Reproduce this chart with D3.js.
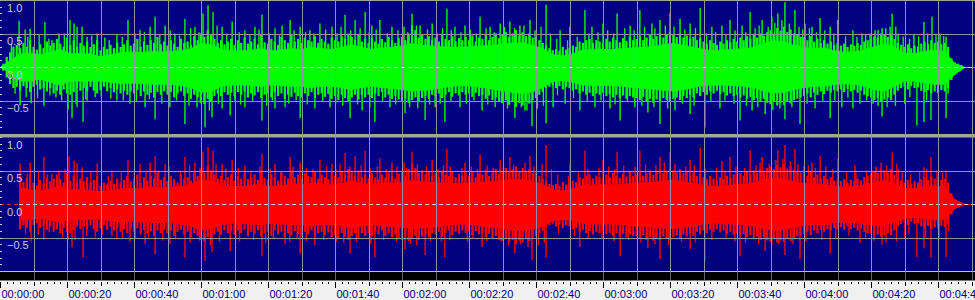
<!DOCTYPE html>
<html><head><meta charset="utf-8">
<script src="https://cdn.jsdelivr.net/npm/d3@7"></script>
<style>html,body{margin:0;padding:0;background:#f0f0f0;overflow:hidden}svg{display:block}</style>
</head><body><svg id="c" width="975" height="300"></svg>
<script>
// ---- data (time in seconds, amplitude -1..1) ----
const CORE_STEP = 3;   // seconds between dense-core envelope samples
const HAIR_STEP = 1;   // seconds between fringe samples
const greenCoreUp = [0,0.1,0.2,0.21,0.19,0.22,0.27,0.2,0.21,0.2,
0.16,0.19,0.22,0.23,0.22,0.24,0.23,0.24,0.25,0.28,
0.36,0.34,0.27,0.25,0.25,0.26,0.28,0.25,0.26,0.28,
0.27,0.3,0.28,0.27,0.3,0.34,0.3,0.27,0.29,0.3,
0.32,0.36,0.33,0.32,0.31,0.3,0.3,0.31,0.32,0.33,
0.35,0.36,0.37,0.33,0.28,0.19,0.17,0.2,0.26,0.27,
0.27,0.27,0.28,0.29,0.3,0.31,0.34,0.36,0.33,0.3,
0.27,0.25,0.26,0.27,0.28,0.3,0.36,0.4,0.38,0.33,
0.3,0.28,0.29,0.25,0.23,0.23,0.26,0.31,0.35,0.3,
0.21,0.21,0.24,0.26,0.24,0.06,0];
const greenCoreLo = [0,-0.08,-0.2,-0.2,-0.17,-0.22,-0.26,-0.2,-0.2,-0.2,
-0.2,-0.22,-0.24,-0.23,-0.24,-0.25,-0.25,-0.25,-0.27,-0.3,
-0.37,-0.35,-0.28,-0.26,-0.26,-0.27,-0.28,-0.26,-0.27,-0.28,
-0.28,-0.3,-0.28,-0.28,-0.3,-0.33,-0.3,-0.28,-0.3,-0.31,
-0.33,-0.35,-0.34,-0.33,-0.3,-0.28,-0.27,-0.28,-0.3,-0.32,
-0.35,-0.37,-0.39,-0.36,-0.3,-0.21,-0.19,-0.22,-0.26,-0.27,
-0.27,-0.27,-0.28,-0.3,-0.31,-0.32,-0.34,-0.35,-0.33,-0.3,
-0.27,-0.26,-0.26,-0.27,-0.28,-0.3,-0.35,-0.38,-0.37,-0.33,
-0.3,-0.28,-0.28,-0.25,-0.24,-0.25,-0.28,-0.33,-0.35,-0.28,
-0.2,-0.2,-0.23,-0.25,-0.25,-0.1,0];
const greenHairUp = [0,0.05,0.15,0.22,0.3,0.33,0.28,0.36,0.3,0.4,
0.3,0.26,0.34,0.28,0.38,0.32,0.36,0.42,0.35,0.3,
0.44,0.33,0.4,0.3,0.36,0.32,0.38,0.3,0.34,0.4,
0.25,0.3,0.27,0.33,0.28,0.36,0.3,0.34,0.4,0.32,
0.35,0.42,0.3,0.38,0.33,0.4,0.36,0.45,0.34,0.38,
0.32,0.4,0.35,0.3,0.42,0.36,0.38,0.33,0.46,0.4,
0.5,0.45,0.55,0.48,0.42,0.36,0.4,0.34,0.38,0.42,
0.33,0.4,0.36,0.44,0.35,0.38,0.42,0.34,0.48,0.37,
0.35,0.42,0.38,0.33,0.45,0.4,0.36,0.48,0.38,0.42,
0.36,0.44,0.4,0.38,0.46,0.36,0.42,0.38,0.35,0.44,
0.4,0.38,0.46,0.42,0.5,0.45,0.4,0.48,0.38,0.42,
0.36,0.44,0.38,0.35,0.42,0.37,0.45,0.4,0.36,0.43,
0.45,0.4,0.5,0.62,0.55,0.44,0.48,0.42,0.46,0.4,
0.44,0.38,0.48,0.42,0.4,0.46,0.38,0.43,0.4,0.45,
0.4,0.47,0.38,0.44,0.42,0.48,0.4,0.45,0.5,0.43,
0.48,0.52,0.45,0.5,0.55,0.47,0.52,0.46,0.5,0.44,
0.45,0.4,0.36,0.32,0.28,0.25,0.27,0.24,0.3,0.26,
0.28,0.32,0.3,0.38,0.36,0.4,0.42,0.36,0.4,0.38,
0.36,0.42,0.38,0.44,0.4,0.37,0.43,0.39,0.46,0.4,
0.42,0.46,0.4,0.44,0.48,0.42,0.46,0.5,0.44,0.48,
0.52,0.48,0.45,0.5,0.44,0.47,0.42,0.45,0.4,0.43,
0.38,0.35,0.4,0.36,0.33,0.38,0.35,0.4,0.37,0.42,
0.38,0.44,0.4,0.46,0.42,0.48,0.44,0.5,0.47,0.52,
0.55,0.5,0.58,0.54,0.6,0.52,0.56,0.5,0.48,0.45,
0.44,0.4,0.46,0.38,0.42,0.36,0.4,0.35,0.38,0.33,
0.36,0.32,0.35,0.3,0.34,0.32,0.36,0.33,0.38,0.4,
0.42,0.46,0.44,0.5,0.48,0.45,0.5,0.42,0.36,0.33,
0.3,0.34,0.28,0.32,0.3,0.35,0.38,0.34,0.4,0.36,
0.38,0.34,0.36,0.3,0.13,0.07,0.05,0.03];
const greenHairLo = [0,-0.04,-0.14,-0.24,-0.3,-0.28,-0.34,-0.27,-0.3,-0.36,
-0.28,-0.25,-0.32,-0.3,-0.35,-0.3,-0.38,-0.34,-0.4,-0.32,
-0.38,-0.4,-0.36,-0.3,-0.34,-0.3,-0.35,-0.28,-0.34,-0.38,
-0.33,-0.28,-0.35,-0.3,-0.36,-0.32,-0.38,-0.34,-0.4,-0.35,
-0.38,-0.33,-0.42,-0.35,-0.4,-0.37,-0.44,-0.36,-0.4,-0.35,
-0.4,-0.36,-0.44,-0.38,-0.35,-0.42,-0.38,-0.46,-0.4,-0.44,
-0.5,-0.54,-0.46,-0.5,-0.42,-0.38,-0.42,-0.36,-0.4,-0.37,
-0.42,-0.36,-0.4,-0.35,-0.44,-0.38,-0.41,-0.36,-0.45,-0.4,
-0.38,-0.44,-0.36,-0.42,-0.38,-0.46,-0.4,-0.43,-0.37,-0.42,
-0.44,-0.38,-0.42,-0.36,-0.45,-0.4,-0.38,-0.43,-0.39,-0.46,
-0.42,-0.48,-0.4,-0.45,-0.5,-0.44,-0.4,-0.47,-0.4,-0.44,
-0.4,-0.45,-0.38,-0.42,-0.36,-0.44,-0.4,-0.46,-0.42,-0.47,
-0.5,-0.46,-0.52,-0.48,-0.44,-0.5,-0.45,-0.42,-0.46,-0.4,
-0.42,-0.38,-0.45,-0.4,-0.36,-0.43,-0.38,-0.41,-0.36,-0.4,
-0.38,-0.43,-0.37,-0.42,-0.4,-0.46,-0.41,-0.48,-0.44,-0.5,
-0.52,-0.48,-0.55,-0.5,-0.58,-0.52,-0.56,-0.5,-0.53,-0.48,
-0.45,-0.4,-0.36,-0.3,-0.28,-0.26,-0.3,-0.27,-0.32,-0.28,
-0.3,-0.34,-0.32,-0.38,-0.35,-0.4,-0.37,-0.42,-0.38,-0.4,
-0.37,-0.42,-0.39,-0.44,-0.4,-0.45,-0.41,-0.46,-0.42,-0.44,
-0.45,-0.48,-0.43,-0.5,-0.46,-0.52,-0.47,-0.5,-0.45,-0.48,
-0.5,-0.46,-0.44,-0.48,-0.42,-0.45,-0.4,-0.44,-0.38,-0.42,
-0.36,-0.4,-0.35,-0.38,-0.34,-0.39,-0.36,-0.41,-0.38,-0.42,
-0.4,-0.44,-0.41,-0.46,-0.43,-0.48,-0.45,-0.5,-0.46,-0.52,
-0.54,-0.5,-0.56,-0.52,-0.55,-0.5,-0.53,-0.48,-0.46,-0.44,
-0.42,-0.38,-0.44,-0.37,-0.4,-0.35,-0.39,-0.34,-0.37,-0.33,
-0.35,-0.32,-0.36,-0.31,-0.35,-0.33,-0.37,-0.34,-0.4,-0.42,
-0.44,-0.48,-0.45,-0.5,-0.47,-0.44,-0.48,-0.4,-0.34,-0.3,
-0.28,-0.32,-0.27,-0.3,-0.29,-0.34,-0.36,-0.33,-0.38,-0.35,
-0.37,-0.33,-0.35,-0.3,-0.18,-0.1,-0.05,-0.03];
const redCoreUp = [null,null,0.25,0.22,0.2,0.23,0.28,0.22,0.22,0.21,
0.19,0.2,0.23,0.24,0.24,0.26,0.25,0.26,0.27,0.3,
0.37,0.35,0.29,0.27,0.27,0.28,0.3,0.27,0.28,0.3,
0.29,0.31,0.3,0.29,0.31,0.35,0.31,0.29,0.31,0.32,
0.33,0.36,0.34,0.33,0.32,0.31,0.31,0.32,0.33,0.34,
0.36,0.37,0.37,0.34,0.3,0.22,0.2,0.23,0.28,0.29,
0.29,0.29,0.3,0.31,0.32,0.33,0.35,0.37,0.34,0.31,
0.29,0.27,0.28,0.29,0.3,0.32,0.37,0.4,0.38,0.34,
0.31,0.3,0.3,0.27,0.26,0.27,0.29,0.33,0.36,0.31,
0.24,0.24,0.26,0.28,0.26,0.07,0];
const redCoreLo = [null,null,-0.24,-0.22,-0.2,-0.23,-0.27,-0.22,-0.22,-0.22,
-0.22,-0.24,-0.26,-0.25,-0.26,-0.27,-0.27,-0.27,-0.29,-0.32,
-0.38,-0.36,-0.3,-0.28,-0.28,-0.29,-0.3,-0.28,-0.29,-0.3,
-0.3,-0.32,-0.3,-0.3,-0.32,-0.35,-0.32,-0.3,-0.32,-0.33,
-0.34,-0.36,-0.35,-0.34,-0.32,-0.3,-0.29,-0.3,-0.32,-0.34,
-0.36,-0.38,-0.39,-0.37,-0.32,-0.24,-0.22,-0.24,-0.28,-0.29,
-0.29,-0.29,-0.3,-0.32,-0.33,-0.34,-0.35,-0.36,-0.34,-0.32,
-0.29,-0.28,-0.28,-0.29,-0.3,-0.32,-0.36,-0.38,-0.37,-0.34,
-0.31,-0.3,-0.3,-0.27,-0.26,-0.27,-0.29,-0.31,-0.31,-0.26,
-0.2,-0.19,-0.21,-0.23,-0.22,-0.06,0];
const redHairUp = [null,null,null,null,null,null,0.42,0.33,0.38,0.44,
0.32,0.28,0.36,0.3,0.4,0.34,0.38,0.44,0.37,0.32,
0.46,0.35,0.42,0.32,0.38,0.34,0.4,0.32,0.36,0.42,
0.27,0.32,0.29,0.35,0.3,0.38,0.32,0.36,0.42,0.34,
0.37,0.44,0.32,0.4,0.35,0.42,0.38,0.47,0.36,0.4,
0.34,0.42,0.37,0.32,0.44,0.38,0.4,0.35,0.48,0.42,
0.52,0.47,0.56,0.5,0.44,0.38,0.42,0.36,0.4,0.44,
0.35,0.42,0.38,0.46,0.37,0.4,0.44,0.36,0.5,0.39,
0.37,0.44,0.4,0.35,0.47,0.42,0.38,0.5,0.4,0.44,
0.38,0.46,0.42,0.4,0.48,0.38,0.44,0.4,0.37,0.46,
0.42,0.4,0.48,0.44,0.52,0.47,0.42,0.5,0.4,0.44,
0.38,0.46,0.4,0.37,0.44,0.39,0.47,0.42,0.38,0.45,
0.47,0.42,0.52,0.6,0.54,0.46,0.5,0.44,0.48,0.42,
0.46,0.4,0.5,0.44,0.42,0.48,0.4,0.45,0.42,0.47,
0.42,0.49,0.4,0.46,0.44,0.5,0.42,0.47,0.52,0.45,
0.5,0.54,0.47,0.52,0.56,0.49,0.54,0.48,0.52,0.46,
0.47,0.42,0.38,0.34,0.3,0.28,0.3,0.27,0.33,0.29,
0.31,0.35,0.33,0.4,0.38,0.42,0.44,0.38,0.42,0.4,
0.38,0.44,0.4,0.46,0.42,0.39,0.45,0.41,0.48,0.42,
0.44,0.48,0.42,0.46,0.5,0.44,0.48,0.52,0.46,0.5,
0.54,0.5,0.47,0.52,0.46,0.49,0.44,0.47,0.42,0.45,
0.4,0.37,0.42,0.38,0.35,0.4,0.37,0.42,0.39,0.44,
0.4,0.46,0.42,0.48,0.44,0.5,0.46,0.52,0.49,0.54,
0.56,0.52,0.58,0.55,0.6,0.53,0.57,0.51,0.49,0.47,
0.46,0.42,0.48,0.4,0.44,0.38,0.42,0.37,0.4,0.35,
0.38,0.34,0.37,0.32,0.36,0.34,0.38,0.35,0.4,0.42,
0.44,0.48,0.46,0.52,0.5,0.47,0.52,0.44,0.38,0.35,
0.32,0.36,0.3,0.34,0.32,0.37,0.4,0.36,0.42,0.38,
0.4,0.36,0.38,0.32,0.16,0.07,0.04,0.02];
const redHairLo = [null,null,null,null,null,null,-0.36,-0.3,-0.34,-0.4,
-0.3,-0.27,-0.34,-0.32,-0.37,-0.32,-0.4,-0.36,-0.42,-0.34,
-0.4,-0.42,-0.38,-0.32,-0.36,-0.32,-0.37,-0.3,-0.36,-0.4,
-0.35,-0.3,-0.37,-0.32,-0.38,-0.34,-0.4,-0.36,-0.42,-0.37,
-0.4,-0.35,-0.44,-0.37,-0.42,-0.39,-0.46,-0.38,-0.42,-0.37,
-0.42,-0.38,-0.46,-0.4,-0.37,-0.44,-0.4,-0.48,-0.42,-0.46,
-0.52,-0.55,-0.48,-0.52,-0.44,-0.4,-0.44,-0.38,-0.42,-0.39,
-0.44,-0.38,-0.42,-0.37,-0.46,-0.4,-0.43,-0.38,-0.47,-0.42,
-0.4,-0.46,-0.38,-0.44,-0.4,-0.48,-0.42,-0.45,-0.39,-0.44,
-0.46,-0.4,-0.44,-0.38,-0.47,-0.42,-0.4,-0.45,-0.41,-0.48,
-0.44,-0.5,-0.42,-0.47,-0.52,-0.46,-0.42,-0.49,-0.42,-0.46,
-0.42,-0.47,-0.4,-0.44,-0.38,-0.46,-0.42,-0.48,-0.44,-0.49,
-0.52,-0.48,-0.54,-0.5,-0.46,-0.52,-0.47,-0.44,-0.48,-0.42,
-0.44,-0.4,-0.47,-0.42,-0.38,-0.45,-0.4,-0.43,-0.38,-0.42,
-0.4,-0.45,-0.39,-0.44,-0.42,-0.48,-0.43,-0.5,-0.46,-0.52,
-0.54,-0.5,-0.56,-0.52,-0.58,-0.53,-0.56,-0.51,-0.54,-0.49,
-0.46,-0.42,-0.38,-0.32,-0.3,-0.28,-0.32,-0.29,-0.34,-0.3,
-0.32,-0.36,-0.34,-0.4,-0.37,-0.42,-0.39,-0.44,-0.4,-0.42,
-0.39,-0.44,-0.41,-0.46,-0.42,-0.47,-0.43,-0.48,-0.44,-0.46,
-0.47,-0.5,-0.45,-0.52,-0.48,-0.53,-0.49,-0.52,-0.47,-0.5,
-0.52,-0.48,-0.46,-0.5,-0.44,-0.47,-0.42,-0.46,-0.4,-0.44,
-0.38,-0.42,-0.37,-0.4,-0.36,-0.41,-0.38,-0.43,-0.4,-0.44,
-0.42,-0.46,-0.43,-0.48,-0.45,-0.5,-0.47,-0.52,-0.48,-0.53,
-0.55,-0.51,-0.56,-0.53,-0.55,-0.51,-0.54,-0.49,-0.47,-0.45,
-0.43,-0.4,-0.45,-0.38,-0.42,-0.37,-0.4,-0.36,-0.38,-0.34,
-0.36,-0.33,-0.37,-0.32,-0.36,-0.34,-0.38,-0.35,-0.4,-0.42,
-0.43,-0.46,-0.44,-0.47,-0.45,-0.42,-0.45,-0.38,-0.32,-0.28,
-0.26,-0.3,-0.25,-0.28,-0.27,-0.32,-0.34,-0.31,-0.36,-0.33,
-0.35,-0.31,-0.33,-0.28,-0.14,-0.06,-0.03,-0.02];
// isolated tall peaks: [time s, amplitude]
const greenPeaks = [[5.7,0.69],[7.5,0.56],[9.0,0.57],[13.4,0.67],[15.5,0.4],[17.6,0.5],[20.9,0.7],[22.1,0.65],[23.0,0.6],[24.5,0.6],[26.0,0.45],[29.0,0.5],[31.3,0.44],[34.9,0.48],[38.2,0.7],[41.8,0.55],[44.8,0.6],[46.3,0.75],[49.3,0.62],[52.2,0.5],[55.2,0.72],[58.2,0.6],[60.6,0.8],[62.1,0.92],[63.6,0.82],[66.3,0.6],[69.3,0.68],[73.1,0.55],[76.1,0.6],[78.2,0.78],[82.1,0.58],[84.2,0.62],[86.6,0.7],[89.6,0.6],[92.5,0.55],[95.5,0.65],[99.1,0.6],[103.0,0.78],[106.0,0.7],[109.0,0.82],[111.0,0.62],[113.4,0.7],[117.0,0.6],[120.6,0.6],[123.0,0.8],[125.4,0.62],[129.0,0.65],[133.4,0.87],[135.8,0.6],[138.8,0.62],[143.3,0.75],[146.3,0.6],[149.3,0.65],[152.2,0.68],[155.2,0.62],[158.2,0.7],[163.0,0.93],[167.2,0.55],[170.1,0.6],[174.6,0.85],[176.7,0.6],[180.0,0.65],[184.2,0.8],[188.1,0.62],[191.0,0.85],[194.6,0.65],[197.0,0.7],[200.0,0.8],[203.0,0.72],[206.0,0.65],[209.0,0.88],[212.5,0.6],[215.5,0.62],[217.9,0.7],[221.5,0.62],[223.9,0.82],[227.5,0.7],[230.4,0.75],[232.2,0.8],[234.3,0.97],[237.3,0.85],[240.3,0.65],[242.4,0.6],[244.8,0.73],[247.8,0.6],[250.1,0.7],[254.6,0.55],[257.3,0.5],[259.7,0.5],[262.1,0.55],[263.3,0.58],[265.7,0.6],[266.3,0.8],[268.1,0.5],[272.8,0.48],[275.8,0.67],[278.2,0.75],[280.6,0.5],[282.4,0.45],
[6.0,-0.57],[9.3,-0.54],[13.1,-0.58],[16.7,-0.45],[20.3,-0.64],[21.5,-0.76],[23.0,-0.6],[24.8,-0.82],[26.0,-0.5],[28.4,-0.45],[34.9,-0.5],[38.8,-0.55],[43.3,-0.6],[46.3,-0.78],[50.7,-0.6],[55.2,-0.85],[58.8,-0.6],[61.2,-0.9],[63.3,-0.75],[66.3,-0.62],[68.7,-0.72],[73.1,-0.6],[78.2,-0.8],[82.1,-0.62],[85.1,-0.6],[89.6,-0.76],[94.0,-0.62],[98.5,-0.6],[104.5,-0.76],[108.1,-0.65],[111.9,-0.82],[116.4,-0.6],[120.9,-0.69],[126.9,-0.79],[129.9,-0.6],[132.8,-0.82],[137.3,-0.6],[143.9,-0.65],[147.8,-0.6],[153.7,-0.76],[156.7,-0.65],[158.8,-0.88],[163.0,-0.84],[165.1,-0.6],[168.7,-0.55],[173.1,-0.65],[177.6,-0.6],[182.1,-0.62],[185.1,-0.8],[189.5,-0.6],[193.4,-0.68],[197.0,-0.85],[201.5,-0.65],[206.0,-0.7],[210.4,-0.9],[214.9,-0.62],[220.9,-0.8],[224.5,-0.65],[228.4,-0.7],[234.3,-0.78],[238.8,-0.85],[243.3,-0.62],[247.8,-0.76],[251.3,-0.6],[254.6,-0.62],[256.7,-0.55],[262.1,-0.58],[263.3,-0.74],[270.1,-0.55],[273.7,-0.87],[275.8,-0.82],[277.9,-0.79],[282.4,-0.76]];
const greenMidPeaks = [[3.4,0.35],[8.3,0.45],[11.7,0.48],[14.6,0.42],[19.2,0.5],[27.4,0.47],[32.6,0.4],[36.5,0.45],[40.3,0.5],[43.1,0.52],[47.7,0.48],[50.8,0.55],[53.6,0.47],[56.9,0.58],[59.4,0.52],[64.8,0.62],[67.7,0.5],[71.4,0.52],[74.6,0.48],[77.3,0.56],[80.4,0.5],[83.4,0.47],[87.8,0.55],[91.2,0.52],[93.7,0.5],[97.2,0.56],[100.6,0.5],[101.8,0.6],[104.7,0.55],[107.5,0.58],[110.2,0.52],[112.3,0.56],[115.6,0.5],[118.8,0.55],[121.7,0.52],[124.3,0.62],[127.6,0.56],[130.5,0.5],[132.1,0.58],[134.7,0.55],[137.6,0.52],[140.4,0.56],[142.2,0.5],[145.1,0.58],[147.5,0.52],[150.6,0.6],[153.6,0.58],[156.4,0.62],[159.7,0.55],[161.5,0.6],[164.3,0.5],[166.2,0.42],[169.4,0.4],[172.3,0.45],[175.8,0.5],[178.5,0.52],[181.4,0.55],[183.2,0.5],[186.5,0.58],[189.3,0.55],[192.4,0.6],[195.5,0.58],[198.6,0.62],[201.2,0.6],[204.4,0.56],[207.6,0.58],[210.9,0.5],[213.6,0.52],[216.7,0.48],[219.4,0.55],[222.6,0.52],[225.4,0.58],[226.6,0.62],[229.3,0.6],[231.3,0.66],[233.4,0.7],[235.6,0.65],[238.5,0.6],[239.6,0.56],[241.6,0.58],[243.7,0.52],[246.2,0.55],[248.9,0.5],[252.4,0.46],[255.8,0.45],[258.4,0.48],[261.2,0.55],[264.4,0.58],[267.4,0.6],[269.6,0.45],[271.5,0.42],[274.2,0.46],[276.9,0.5],[279.4,0.48],[281.7,0.46],
[4.5,-0.4],[7.8,-0.45],[11.2,-0.46],[14.9,-0.42],[18.4,-0.5],[22.7,-0.55],[25.6,-0.48],[30.2,-0.44],[33.1,-0.47],[36.8,-0.5],[40.7,-0.52],[44.6,-0.48],[48.3,-0.55],[52.7,-0.5],[56.4,-0.58],[59.8,-0.54],[62.5,-0.65],[65.2,-0.55],[70.1,-0.5],[71.8,-0.56],[75.4,-0.52],[79.6,-0.58],[81.3,-0.5],[86.2,-0.55],[88.4,-0.5],[91.7,-0.56],[96.3,-0.52],[100.2,-0.55],[102.3,-0.58],[106.7,-0.56],[110.4,-0.6],[114.2,-0.52],[118.1,-0.56],[122.3,-0.6],[124.7,-0.62],[128.2,-0.56],[131.4,-0.55],[134.6,-0.52],[139.2,-0.55],[141.5,-0.5],[145.6,-0.56],[149.8,-0.54],[151.5,-0.62],[155.6,-0.6],[157.3,-0.65],[160.4,-0.62],[162.2,-0.58],[166.4,-0.42],[171.2,-0.46],[175.3,-0.52],[179.4,-0.5],[183.6,-0.56],[187.3,-0.52],[191.6,-0.58],[195.2,-0.6],[199.3,-0.62],[203.7,-0.55],[207.2,-0.58],[212.2,-0.52],[216.4,-0.5],[219.1,-0.55],[222.8,-0.58],[226.2,-0.6],[230.7,-0.64],[232.8,-0.62],[236.4,-0.6],[240.9,-0.55],[245.6,-0.52],[249.2,-0.5],[253.1,-0.46],[258.7,-0.5],[260.6,-0.55],[264.8,-0.6],[267.3,-0.58],[271.6,-0.45],[276.6,-0.5],[280.1,-0.48],[283.0,-0.4]];
const redPeaks = [[6.0,0.61],[9.0,0.62],[13.1,0.7],[15.5,0.45],[17.6,0.5],[20.6,0.71],[22.1,0.65],[23.0,0.61],[24.5,0.55],[29.0,0.61],[33.4,0.5],[38.2,0.65],[41.8,0.6],[44.8,0.62],[46.3,0.72],[49.3,0.6],[55.2,0.7],[58.2,0.62],[60.6,0.78],[62.1,0.85],[63.6,0.8],[66.3,0.6],[69.3,0.66],[73.1,0.58],[78.2,0.75],[82.1,0.6],[86.6,0.7],[89.6,0.62],[95.5,0.66],[99.1,0.6],[103.0,0.76],[106.0,0.72],[109.0,0.8],[113.4,0.68],[117.0,0.62],[120.6,0.62],[123.0,0.78],[129.0,0.66],[133.4,0.82],[138.8,0.62],[143.3,0.74],[149.3,0.66],[152.2,0.7],[158.2,0.72],[163.0,0.88],[170.1,0.6],[174.6,0.8],[180.0,0.66],[184.2,0.78],[191.0,0.8],[197.0,0.7],[200.0,0.78],[206.0,0.66],[209.0,0.84],[215.5,0.64],[217.9,0.7],[223.9,0.8],[227.5,0.7],[232.2,0.8],[234.3,0.88],[237.3,0.82],[242.4,0.62],[244.8,0.72],[250.1,0.68],[255.2,0.58],[260.3,0.5],[263.0,0.62],[266.3,0.77],[268.1,0.52],[275.8,0.55],[277.9,0.7],[282.4,0.5],
[6.0,-0.34],[9.3,-0.56],[13.1,-0.53],[20.3,-0.53],[21.5,-0.64],[24.8,-0.8],[28.4,-0.5],[34.9,-0.53],[38.8,-0.56],[43.3,-0.6],[46.3,-0.75],[50.7,-0.6],[55.2,-0.8],[61.2,-0.85],[63.3,-0.72],[68.7,-0.7],[78.2,-0.78],[85.1,-0.6],[89.6,-0.74],[94.0,-0.62],[104.5,-0.74],[111.9,-0.8],[120.9,-0.68],[126.9,-0.76],[132.8,-0.8],[143.9,-0.64],[153.7,-0.74],[158.8,-0.84],[163.0,-0.8],[173.1,-0.64],[185.1,-0.78],[193.4,-0.66],[197.0,-0.82],[206.0,-0.68],[210.4,-0.86],[220.9,-0.78],[228.4,-0.7],[234.3,-0.76],[238.8,-0.82],[247.8,-0.74],[256.7,-0.58],[263.3,-0.61],[270.1,-0.5],[273.7,-0.79],[275.8,-0.66],[277.9,-0.8],[282.4,-0.79]];
const redMidPeaks = [[8.1,0.45],[11.5,0.5],[14.2,0.44],[19.4,0.52],[27.1,0.48],[32.3,0.42],[36.2,0.47],[40.1,0.52],[43.6,0.5],[47.4,0.5],[50.5,0.56],[53.9,0.48],[56.6,0.58],[59.7,0.54],[64.5,0.6],[67.4,0.52],[71.1,0.54],[74.9,0.5],[77.6,0.56],[80.7,0.52],[83.8,0.48],[87.5,0.56],[91.5,0.54],[93.4,0.52],[97.5,0.56],[100.3,0.52],[101.5,0.6],[104.4,0.56],[107.8,0.58],[110.5,0.54],[112.6,0.56],[115.3,0.52],[118.5,0.56],[121.4,0.54],[124.6,0.6],[127.3,0.56],[130.8,0.52],[132.4,0.58],[134.4,0.56],[137.9,0.54],[140.7,0.56],[142.5,0.52],[145.4,0.58],[147.2,0.54],[150.3,0.6],[153.3,0.58],[156.7,0.62],[159.4,0.56],[161.8,0.6],[164.6,0.52],[166.5,0.44],[169.7,0.42],[172.6,0.47],[175.5,0.52],[178.8,0.54],[181.7,0.56],[183.5,0.52],[186.2,0.58],[189.6,0.56],[192.7,0.6],[195.8,0.58],[198.3,0.62],[201.5,0.6],[204.7,0.56],[207.3,0.58],[210.6,0.52],[213.9,0.54],[216.4,0.5],[219.7,0.56],[222.3,0.54],[225.7,0.58],[226.9,0.62],[229.6,0.6],[231.6,0.66],[233.7,0.68],[235.9,0.64],[238.2,0.6],[239.9,0.56],[241.3,0.58],[243.4,0.54],[246.5,0.56],[248.6,0.52],[252.7,0.48],[255.5,0.47],[258.7,0.5],[261.5,0.56],[264.7,0.58],[267.7,0.6],[269.3,0.47],[271.8,0.44],[274.5,0.48],[276.6,0.52],[279.7,0.5],[281.4,0.47],
[7.6,-0.44],[11.4,-0.46],[14.7,-0.42],[18.7,-0.5],[22.4,-0.54],[25.9,-0.48],[30.5,-0.45],[33.4,-0.48],[36.5,-0.5],[40.4,-0.52],[44.3,-0.5],[48.6,-0.55],[52.4,-0.52],[56.7,-0.58],[59.5,-0.55],[62.8,-0.62],[65.5,-0.56],[70.4,-0.52],[71.5,-0.56],[75.7,-0.54],[79.3,-0.58],[81.6,-0.52],[86.5,-0.56],[88.7,-0.52],[91.4,-0.56],[96.6,-0.54],[100.5,-0.56],[102.6,-0.58],[106.4,-0.56],[110.7,-0.6],[114.5,-0.54],[118.4,-0.56],[122.6,-0.6],[124.4,-0.62],[128.5,-0.56],[131.7,-0.56],[134.3,-0.54],[139.5,-0.56],[141.2,-0.52],[145.3,-0.56],[149.5,-0.55],[151.8,-0.62],[155.3,-0.6],[157.6,-0.64],[160.7,-0.62],[162.5,-0.58],[166.7,-0.44],[171.5,-0.48],[175.6,-0.52],[179.7,-0.52],[183.3,-0.56],[187.6,-0.54],[191.3,-0.58],[195.5,-0.6],[199.6,-0.62],[203.4,-0.56],[207.5,-0.58],[212.5,-0.54],[216.7,-0.52],[219.4,-0.56],[222.5,-0.58],[226.5,-0.6],[230.4,-0.62],[232.5,-0.6],[236.7,-0.6],[240.6,-0.56],[245.3,-0.54],[249.5,-0.52],[253.4,-0.47],[258.4,-0.5],[260.9,-0.55],[264.5,-0.58],[267.6,-0.56],[271.3,-0.44],[276.3,-0.5],[280.4,-0.5],[283.2,-0.4]];
const yTickValues = [1.0, 0.5, 0.0, -0.5];
const timeLabels = ["00:00:00","00:00:20","00:00:40","00:01:00","00:01:20","00:01:40","00:02:00","00:02:20","00:02:40","00:03:00","00:03:20","00:03:40","00:04:00","00:04:20","00:04:40"];
const labelTimes = [0,20,40,60,80,100,120,140,160,180,200,220,240,260,280];
const greenStart = 0.6, redStart = 5.7;

// ---- drawing ----
const svg = d3.select('#c');
const x = d3.scaleLinear().domain([0, 291.04]).range([0, 975]);
const panels = [
  {y: d3.scaleLinear().domain([-1,1]).range([134,0]), top:0, bottom:134, color:'#00ff00', cu:greenCoreUp, cl:greenCoreLo, hu:greenHairUp, hl:greenHairLo, peaks:greenPeaks, mid:greenMidPeaks, start:greenStart, pre:'#a8f0a8'},
  {y: d3.scaleLinear().domain([-1,1]).range([271,137]), top:137, bottom:271, color:'#ff0000', cu:redCoreUp, cl:redCoreLo, hu:redHairUp, hl:redHairLo, peaks:redPeaks, mid:redMidPeaks, start:redStart, pre:'#ff2020'}
];
const GRID = '#9090a4';
const FONT = 'Liberation Sans, Arial, sans-serif';
svg.append('rect').attr('x',0).attr('y',0).attr('width',975).attr('height',300).attr('fill','#f0f0f0');
panels.forEach((p,k)=>{
  const cid = 'clip'+k;
  svg.append('clipPath').attr('id',cid).append('rect').attr('x',0).attr('y',p.top).attr('width',975).attr('height',p.bottom-p.top);
  const g = svg.append('g').attr('clip-path',`url(#${cid})`);
  g.append('rect').attr('x',0).attr('y',p.top).attr('width',975).attr('height',p.bottom-p.top).attr('fill','#000080');
  const y = p.y, y0 = y(0)+0.5;
  g.append('line').attr('x1',0).attr('x2',x(p.start)).attr('y1',y0).attr('y2',y0)
    .attr('stroke',p.pre).attr('stroke-dasharray','4,3');
  g.append('line').attr('x1',x(p.start)).attr('x2',975).attr('y1',y0).attr('y2',y0).attr('stroke',p.color);
  const area = d3.area().defined((d,i)=>p.cu[i]!==null)
    .x((d,i)=>x(i*CORE_STEP)).y1((d,i)=>y(p.cu[i])).y0((d,i)=>y(p.cl[i])+1);
  g.append('path').datum(p.cu).attr('d',area).attr('fill',p.color);
  const hair = p.hu.map((v,i)=>[i*HAIR_STEP, v, p.hl[i]]).filter(d=>d[1]!==null);
  g.selectAll('line.hr').data(hair).join('line').attr('class','hr')
    .attr('x1',d=>x(d[0])).attr('x2',d=>x(d[0]))
    .attr('y1',d=>y(d[1])).attr('y2',d=>y(d[2])+1)
    .attr('stroke',p.color).attr('stroke-width',2.2);
  g.selectAll('line.md').data(p.mid).join('line').attr('class','md')
    .attr('x1',d=>x(d[0])).attr('x2',d=>x(d[0]))
    .attr('y1',y0).attr('y2',d=>y(d[1]))
    .attr('stroke',p.color).attr('stroke-width',1.3);
  g.selectAll('line.pk').data(p.peaks).join('line').attr('class','pk')
    .attr('x1',d=>x(d[0])).attr('x2',d=>x(d[0]))
    .attr('y1',y0).attr('y2',d=>y(d[1]))
    .attr('stroke',p.color).attr('stroke-width',1.4);
  g.selectAll('line.hg').data([0.5,-0.5]).join('line').attr('class','hg')
    .attr('x1',0).attr('x2',975).attr('y1',d=>Math.round(y(d))+0.5).attr('y2',d=>Math.round(y(d))+0.5)
    .attr('stroke',GRID);
  g.selectAll('line.vg').data(d3.range(10,292,10)).join('line').attr('class','vg')
    .attr('x1',d=>Math.round(x(d))+0.5).attr('x2',d=>Math.round(x(d))+0.5).attr('y1',p.top).attr('y2',p.bottom)
    .attr('stroke',GRID);
  g.append('line').attr('x1',x(p.start)).attr('x2',975).attr('y1',y0).attr('y2',y0)
    .attr('stroke','#d4d4d4').attr('stroke-dasharray','4,3');
  g.selectAll('line.lt').data(d3.range(-10,11).map(v=>v/10)).join('line').attr('class','lt')
    .attr('x1',0).attr('x2',2).attr('y1',d=>Math.round(y(d))+0.5).attr('y2',d=>Math.round(y(d))+0.5)
    .attr('stroke','#c8c8f0');
  g.selectAll('text').data(yTickValues).join('text')
    .attr('x',7).attr('y',d=>y(d)+11.5)
    .attr('fill','#c8c8f4').attr('font-family',FONT).attr('font-size',11)
    .text(d=>d3.format('.1f')(d));
});
svg.append('rect').attr('x',0).attr('y',0).attr('width',975).attr('height',1).attr('fill','#a0a0a0');
svg.append('rect').attr('x',0).attr('y',134).attr('width',975).attr('height',3.5).attr('fill','#a4a4a4');
svg.append('rect').attr('x',0).attr('y',271).attr('width',975).attr('height',1).attr('fill','#c0c0c0');
svg.append('rect').attr('x',0).attr('y',272).attr('width',975).attr('height',8.5).attr('fill','#000000');
svg.selectAll('line.bg').data(d3.range(10,292,10)).join('line').attr('class','bg')
  .attr('x1',d=>Math.round(x(d))+0.5).attr('x2',d=>Math.round(x(d))+0.5).attr('y1',134).attr('y2',280.5)
  .attr('stroke',GRID).attr('stroke-opacity',0.7);
const ruler = svg.append('g');
ruler.selectAll('line').data(d3.range(0,292,2)).join('line')
  .attr('x1',d=>Math.round(x(d))+0.5).attr('x2',d=>Math.round(x(d))+0.5)
  .attr('y1',282).attr('y2',d=> d%20===0 ? 288 : (d%10===0 ? 286 : 284))
  .attr('stroke','#000');
ruler.selectAll('text').data(labelTimes).join('text')
  .attr('x',d=>x(d)+1.5).attr('y',297.5)
  .attr('fill','#000080').attr('font-family',FONT).attr('font-size',11)
  .text((d,i)=>timeLabels[i]);
</script></body></html>
